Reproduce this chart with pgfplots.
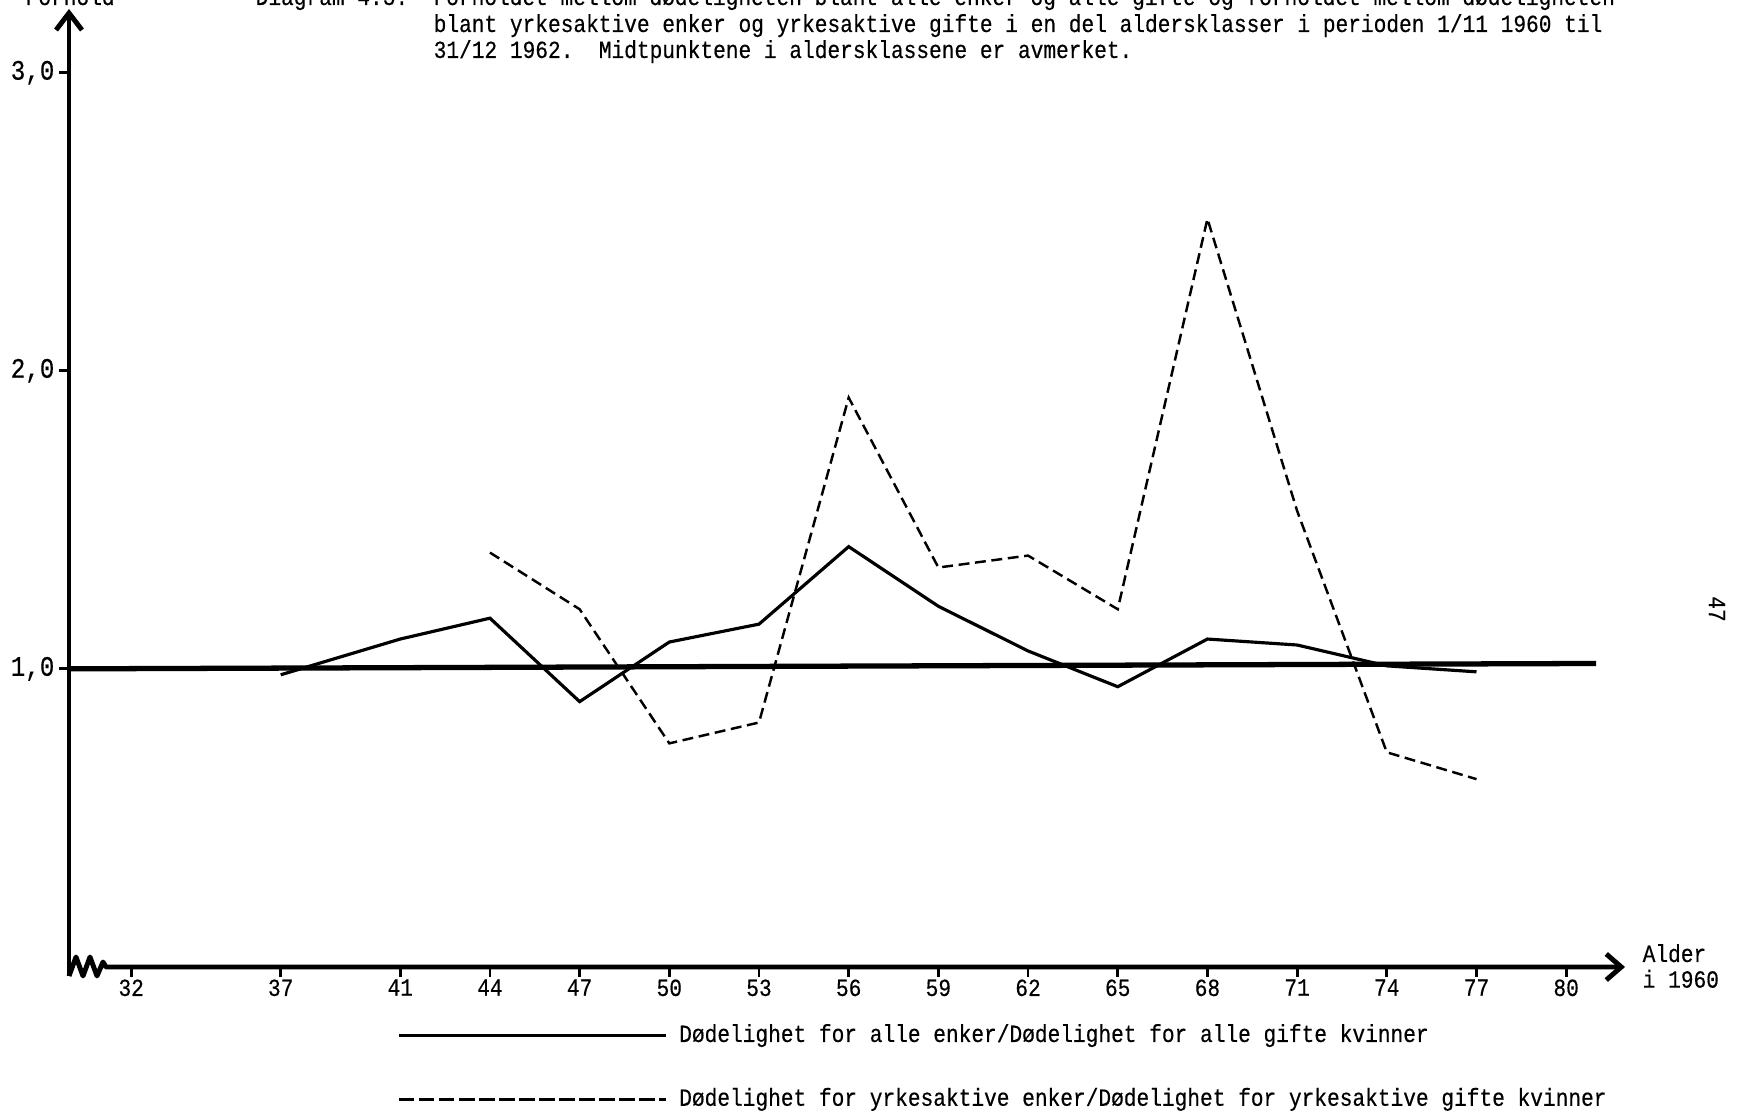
\documentclass[border=0pt]{standalone}
\usepackage{pgfplots}
\pgfplotsset{compat=1.18}
\usepackage{pgfplotstable}
\usepackage{fontspec}
\setmonofont{Liberation Mono}[FakeStretch=0.86, FakeBold=0.4]
\usetikzlibrary{arrows.meta}
\newcommand{\tw}{\ttfamily\fontsize{7}{7.3}\selectfont\frenchspacing}
\newcommand{\twl}{\ttfamily\fontsize{8}{8.5}\selectfont}

% Ratio of mortality, all widows / all married women
\pgfplotstableread{
age ratio
37 0.98
41 1.10
44 1.17
47 0.89
50 1.09
53 1.15
56 1.41
59 1.21
62 1.06
65 0.94
68 1.10
71 1.08
74 1.01
77 0.99
}\alle

% Ratio of mortality, working widows / working married women
\pgfplotstableread{
age ratio
44 1.39
47 1.20
50 0.75
53 0.82
56 1.91
59 1.34
62 1.38
65 1.20
68 2.51
71 1.53
74 0.72
77 0.63
}\yrkes

\begin{document}
\begin{tikzpicture}[x=0.01cm,y=0.01cm]
\useasboundingbox (0,0) rectangle (1743,1113);
\clip (0,0) rectangle (1743,1113);

\begin{axis}[
  at={(0.69cm,1.46cm)}, anchor=south west,
  scale only axis, width=15.56cm, height=9.58cm,
  xmin=29.92, xmax=82.0, ymin=0, ymax=3.216,
  enlargelimits=false,
  axis lines=left,
  axis line style={draw=none},
  clip=false,
  xtick={32,37,41,44,47,50,53,56,59,62,65,68,71,74,77,80},
  xticklabels={32,37,41,44,47,50,53,56,59,62,65,68,71,74,77,80},
  ytick={1,2,3},
  yticklabels={{1,0},{2,0},{3,0}},
  tick align=outside,
  major tick length=0.1cm,
  tick style={line width=0.8pt, black},
  xticklabel style={font=\tw, yshift=2.8pt},
  yticklabel style={font=\twl, xshift=2.2pt},
  legend style={at={(axis description cs:0.2104,-0.0516)}, anchor=north west,
    draw=none, fill=none, inner sep=0pt, row sep=0.266cm,
    font=\tw, cells={anchor=west}},
  legend cell align=left,
]
% reference level 1,0
\addplot[forget plot, line width=1.5pt] coordinates {(29.92,1.0) (81.0,1.018)};

\addplot[line width=0.9pt,
  legend image code/.code={\draw[line width=0.9pt] (0cm,0cm) -- (2.67cm,0cm);}]
  table[x=age,y=ratio]{\alle};
\addlegendentry{\hspace{1.3pt}Dødelighet for alle enker/Dødelighet for alle gifte kvinner}

\addplot[line width=0.7pt, dash pattern=on 3.1pt off 1.6pt,
  legend image code/.code={\draw[line width=0.7pt, dash pattern=on 4.4pt off 1.3pt] (0cm,0cm) -- (2.67cm,0cm);}]
  table[x=age,y=ratio]{\yrkes};
\addlegendentry{\hspace{1.3pt}Dødelighet for yrkesaktive enker/Dødelighet for yrkesaktive gifte kvinner}
\end{axis}

% axes with a break at the origin
\draw[line width=1.4pt, -{Straight Barb[length=1.7mm,width=2.6mm]}] (69,137) -- (69,1104);
\draw[line width=1.4pt, line join=round, -{Straight Barb[length=1.5mm,width=2.6mm]}]
  (69,137) -- (76,156) -- (83,137) -- (90,156) -- (97,137) -- (103,151) -- (106,146) -- (1625,146);

\node[anchor=west, font=\tw, align=left, inner sep=0pt] at (1642,147) {Alder\\i 1960};

% heading
\begin{scope}[every node/.style={anchor=base west, inner sep=0pt, font=\tw}]
\node at (25,1108) {Forhold};
\node at (255,1108) {Diagram 4.3.~~Forholdet mellom dødeligheten blant alle enker og alle gifte og forholdet mellom dødeligheten};
\node at (433,1081) {blant yrkesaktive enker og yrkesaktive gifte i en del aldersklasser i perioden 1/11 1960 til};
\node at (433,1055) {31/12 1962.~~Midtpunktene i aldersklassene er avmerket.};
\end{scope}

\node[rotate=-90, font=\tw, inner sep=0pt] at (1717,504) {47};
\end{tikzpicture}
\end{document}
